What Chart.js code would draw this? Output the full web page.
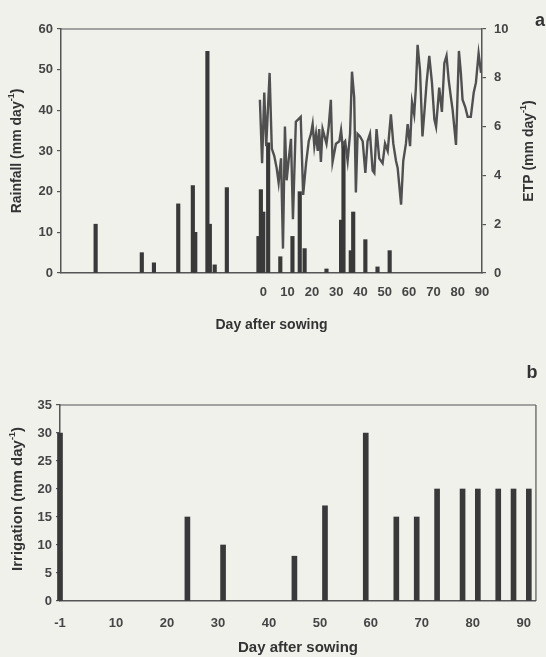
<!DOCTYPE html>
<html>
<head>
<meta charset="utf-8">
<script src="https://cdn.jsdelivr.net/npm/chart.js@4.4.1/dist/chart.umd.min.js"></script>
<style>
  html, body { margin: 0; padding: 0; background: #f1f1ec; }
  #wrap { position: relative; width: 546px; height: 657px; }
  canvas { position: absolute; left: 0; }
  #rainChart { top: 0; }
  #irrChart { top: 340px; }
</style>
</head>
<body>
<div id="wrap">
  <canvas id="rainChart" width="546" height="340"></canvas>
  <canvas id="irrChart" width="546" height="317"></canvas>
</div>
<script>
// daily rainfall (mm), days relative to sowing
var rainDays = [-69, -50, -45, -35, -29, -28, -23, -22, -20, -15, -2, -1, 0, 2, 7, 12, 15, 17, 26, 32, 33, 36, 37, 42, 47, 52];
var rainMm = [12, 5, 2.5, 17, 21.5, 10, 54.5, 12, 2, 21, 9, 20.5, 15, 32, 4, 9, 20, 6, 1, 13, 32, 5.5, 15, 8.2, 1.5, 5.5];

// ETP (mm/day) during the crop cycle
var etpDays = [-1.4, -0.5, 0.4, 1.2, 2.6, 3.5, 4.5, 5.5, 6.3, 7.3, 8.1, 8.9, 9.6, 10.5, 11.4, 12.2, 13.4, 14.4, 15.4, 16.4,
    17.6, 18.7, 19.6, 20.3, 21.0, 21.7, 22.4, 23.0, 23.7, 24.4, 25.2, 26.0, 26.9, 27.8, 28.5, 29.9, 31.3, 32.0, 32.6, 33.7,
    34.7, 35.7, 36.5, 37.4, 38.1, 38.8, 39.8, 40.9, 42.0, 42.9, 43.9, 45.0, 45.7, 46.6, 47.7, 49.1, 50.1, 51.2, 52.5, 53.5,
    54.6, 55.3, 56.7, 57.6, 58.7, 59.4, 60.4, 61.2, 62.1, 62.8, 63.5, 64.5, 65.5, 66.3, 67.2, 68.3, 69.4, 70.4, 71.1, 72.4,
    73.5, 74.5, 75.4, 76.3, 77.2, 77.9, 79.3, 80.5, 81.3, 82.0, 83.1, 84.1, 85.4, 86.6, 87.5, 88.6, 89.6];
var etpMm = [7.1, 4.5, 7.4, 5.2, 8.2, 5.1, 4.8, 4.3, 3.7, 4.7, 1.0, 6.0, 3.8, 4.7, 5.5, 2.2, 6.2, 6.3, 6.4, 3.2,
    4.5, 5.4, 5.7, 6.1, 5.2, 5.7, 5.0, 5.9, 4.55, 5.9, 5.6, 5.3, 6.0, 7.1, 4.55, 5.3, 5.4, 5.85, 5.25, 5.4,
    4.6, 5.7, 8.25, 7.2, 3.3, 5.7, 5.6, 5.4, 4.1, 5.4, 5.7, 4.2, 4.1, 5.9, 4.7, 4.5, 5.3, 5.0, 6.5, 5.3,
    4.6, 4.3, 2.8, 4.6, 5.3, 6.1, 5.2, 7.0, 6.5, 7.6, 9.35, 8.3, 5.6, 6.6, 7.8, 8.9, 7.8, 6.3, 6.0, 7.6,
    6.6, 8.6, 8.9, 7.9, 7.2, 6.7, 5.25, 9.1, 8.2, 7.1, 6.8, 6.4, 6.4, 7.4, 7.8, 9.0, 8.2];

// irrigation events (mm)
var irrDays = [-1, 24, 31, 45, 51, 59, 65, 69, 73, 78, 81, 85, 88, 91];
var irrMm = [30, 15, 10, 8, 17, 30, 15, 15, 20, 20, 20, 20, 20, 20];

var dayTicksA = [0, 10, 20, 30, 40, 50, 60, 70, 80, 90];
var dayTicksB = [-1, 10, 20, 30, 40, 50, 60, 70, 80, 90];

var FAMILY = '"Liberation Sans", Arial, sans-serif';
var tickFont = { family: FAMILY, size: 13, weight: 'bold' };
var tickColor = '#454545';
var axisColor = '#555';

function pts(xs, ys) {
    return xs.map(function (x, i) { return { x: x, y: ys[i] }; });
}

// bold text with an optional superscript part, centred on (x, y)
function drawRich(ctx, parts, x, y, rot, size) {
    var main = 'bold ' + size + 'px ' + FAMILY;
    var small = 'bold ' + Math.round(size * 0.62) + 'px ' + FAMILY;
    ctx.save();
    ctx.translate(x, y);
    ctx.rotate(rot);
    var total = 0;
    parts.forEach(function (p) {
        ctx.font = p.sup ? small : main;
        p.w = ctx.measureText(p.t).width;
        total += p.w;
    });
    var cx = -total / 2;
    ctx.textBaseline = 'middle';
    ctx.fillStyle = '#333';
    parts.forEach(function (p) {
        ctx.font = p.sup ? small : main;
        ctx.fillText(p.t, cx, p.sup ? -size * 0.38 : 0);
        cx += p.w;
    });
    ctx.restore();
}

function frameLine(ctx, x1, y1, x2, y2) {
    ctx.save();
    ctx.strokeStyle = axisColor;
    ctx.lineWidth = 1.2;
    ctx.beginPath();
    ctx.moveTo(x1, y1);
    ctx.lineTo(x2, y2);
    ctx.stroke();
    ctx.restore();
}

var yGrid = { display: true, drawOnChartArea: false, drawTicks: true, tickLength: 4, color: axisColor, lineWidth: 1.2 };
var border = { display: true, color: axisColor, width: 1.5 };

var rainDecor = {
    id: 'rainDecor',
    afterDraw: function (chart) {
        var ctx = chart.ctx, a = chart.chartArea;
        frameLine(ctx, a.left, a.top, a.right, a.top);
        var midY = (a.top + a.bottom) / 2;
        drawRich(ctx, [{ t: 'Rainfall (mm day' }, { t: '-1', sup: true }, { t: ')' }], 17, midY, -Math.PI / 2, 14);
        drawRich(ctx, [{ t: 'ETP (mm day' }, { t: '-1', sup: true }, { t: ')' }], 529, midY, -Math.PI / 2, 14);
        drawRich(ctx, [{ t: 'Day after sowing' }], (a.left + a.right) / 2, 325, 0, 14);
        drawRich(ctx, [{ t: 'a' }], 540, 21, 0, 18);
    }
};

var irrDecor = {
    id: 'irrDecor',
    afterDraw: function (chart) {
        var ctx = chart.ctx, a = chart.chartArea;
        frameLine(ctx, a.left, a.top, a.right, a.top);
        frameLine(ctx, a.right, a.top, a.right, a.bottom);
        drawRich(ctx, [{ t: 'Irrigation (mm day' }, { t: '-1', sup: true }, { t: ')' }], 18, (a.top + a.bottom) / 2 - 4, -Math.PI / 2, 15);
        drawRich(ctx, [{ t: 'Day after sowing' }], (a.left + a.right) / 2, 308, 0, 15);
        drawRich(ctx, [{ t: 'b' }], 532, 33, 0, 18);
    }
};

new Chart(document.getElementById('rainChart'), {
    type: 'bar',
    data: {
        datasets: [
            {
                type: 'line',
                label: 'ETP',
                data: pts(etpDays, etpMm),
                yAxisID: 'y1',
                borderColor: '#505050',
                borderWidth: 2.4,
                pointRadius: 0,
                tension: 0,
                order: 0
            },
            {
                type: 'bar',
                label: 'Rainfall',
                data: pts(rainDays, rainMm),
                yAxisID: 'y',
                backgroundColor: '#393939',
                barThickness: 3.5,
                order: 1
            }
        ]
    },
    options: {
        responsive: false,
        animation: false,
        layout: { padding: { top: 29, left: 0, right: 0, bottom: 0 } },
        plugins: { legend: { display: false }, tooltip: { enabled: false } },
        scales: {
            x: {
                type: 'linear',
                min: -83.25,
                max: 90,
                offset: false,
                grid: { display: false, drawTicks: false },
                border: border,
                afterBuildTicks: function (s) { s.ticks = dayTicksA.map(function (v) { return { value: v }; }); },
                afterFit: function (s) { s.height = 67; },
                ticks: { autoSkip: false, maxRotation: 0, padding: 12, font: tickFont, color: tickColor }
            },
            y: {
                position: 'left',
                min: 0,
                max: 60,
                grid: yGrid,
                border: border,
                afterFit: function (s) { s.width = 61; },
                ticks: { stepSize: 10, padding: 4, font: tickFont, color: tickColor }
            },
            y1: {
                position: 'right',
                min: 0,
                max: 10,
                grid: yGrid,
                border: border,
                afterFit: function (s) { s.width = 64; },
                ticks: { stepSize: 2, padding: 8, font: tickFont, color: tickColor }
            }
        }
    },
    plugins: [rainDecor]
});

new Chart(document.getElementById('irrChart'), {
    type: 'bar',
    data: {
        datasets: [
            {
                label: 'Irrigation',
                data: pts(irrDays, irrMm),
                backgroundColor: '#393939',
                barThickness: 5,
                clip: false
            }
        ]
    },
    options: {
        responsive: false,
        animation: false,
        layout: { padding: { top: 65, left: 0, right: 2, bottom: 0 } },
        plugins: { legend: { display: false }, tooltip: { enabled: false } },
        scales: {
            x: {
                type: 'linear',
                min: -1,
                max: 92.4,
                offset: false,
                grid: { display: false, drawTicks: false },
                border: border,
                afterBuildTicks: function (s) { s.ticks = dayTicksB.map(function (v) { return { value: v }; }); },
                afterFit: function (s) { s.height = 56; },
                ticks: { autoSkip: false, maxRotation: 0, padding: 15, font: tickFont, color: tickColor }
            },
            y: {
                position: 'left',
                min: 0,
                max: 35,
                grid: yGrid,
                border: border,
                afterFit: function (s) { s.width = 60; },
                ticks: { stepSize: 5, padding: 4, font: tickFont, color: tickColor }
            }
        }
    },
    plugins: [irrDecor]
});
</script>
</body>
</html>
